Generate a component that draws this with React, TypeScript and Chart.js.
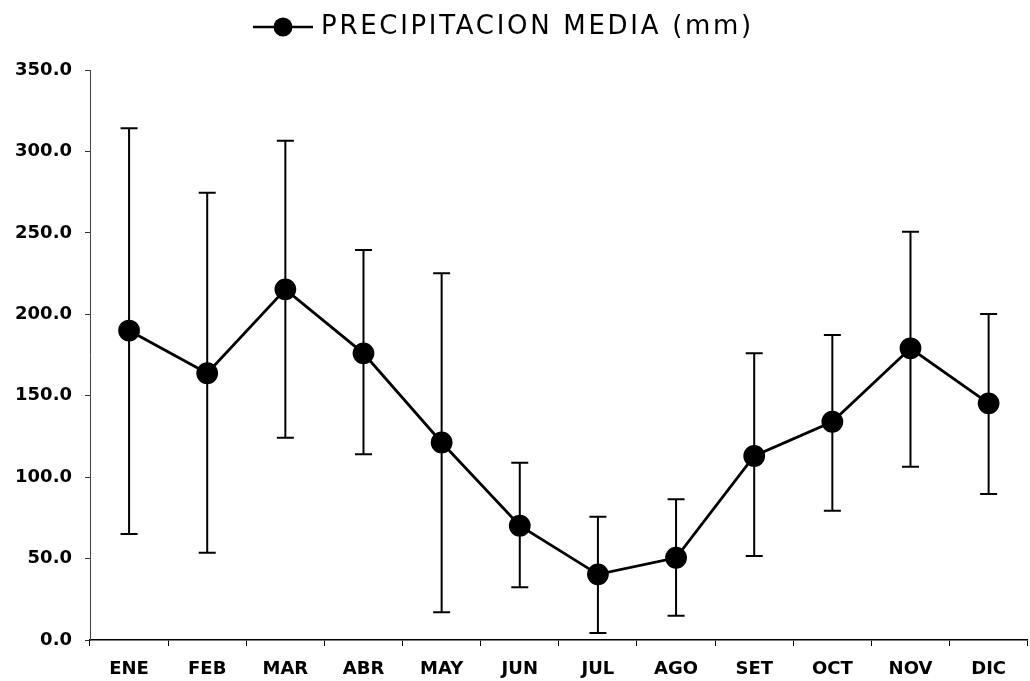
import React, { useEffect, useRef } from "react";
import { Chart, registerables } from "chart.js";

Chart.register(...registerables);

const months = ["ENE", "FEB", "MAR", "ABR", "MAY", "JUN", "JUL", "AGO", "SET", "OCT", "NOV", "DIC"];
const meanPrecip = [190.0, 163.8, 215.3, 176.0, 121.3, 70.2, 40.3, 50.5, 113.0, 134.0, 179.1, 145.3];
const upperPrecip = [314.2, 274.7, 306.6, 239.5, 225.2, 108.9, 75.7, 86.4, 176.0, 187.3, 250.7, 200.2];
const lowerPrecip = [65.1, 53.6, 124.2, 114.0, 17.0, 32.4, 4.3, 14.9, 51.6, 79.4, 106.4, 89.6];
const legendLabel = "PRECIPITACION MEDIA (mm)";
const yMin = 0;
const yMax = 350;
const yStep = 50;

const errorBarPlugin = {
  id: "errorBars",
  beforeDatasetsDraw(chart: any) {
    const { ctx, scales } = chart;
    const xs = scales.x;
    const ys = scales.y;
    ctx.save();
    ctx.strokeStyle = "#000";
    ctx.lineWidth = 2;
    const cap = 8.5;
    months.forEach((_, i) => {
      const x = xs.getPixelForValue(i);
      const yHi = ys.getPixelForValue(upperPrecip[i]);
      const yLo = ys.getPixelForValue(lowerPrecip[i]);
      ctx.beginPath();
      ctx.moveTo(x, yHi);
      ctx.lineTo(x, yLo);
      ctx.moveTo(x - cap, yHi);
      ctx.lineTo(x + cap, yHi);
      ctx.moveTo(x - cap, yLo);
      ctx.lineTo(x + cap, yLo);
      ctx.stroke();
    });
    ctx.restore();
  },
};

const legendPlugin = {
  id: "customLegend",
  afterDraw(chart: any) {
    const { ctx } = chart;
    const cy = 27;
    ctx.save();
    ctx.strokeStyle = "#000";
    ctx.lineWidth = 2.5;
    ctx.beginPath();
    ctx.moveTo(253, cy);
    ctx.lineTo(313, cy);
    ctx.stroke();
    ctx.fillStyle = "#000";
    ctx.beginPath();
    ctx.arc(283, cy, 9.5, 0, Math.PI * 2);
    ctx.fill();
    ctx.font = "26px 'DejaVu Sans'";
    (ctx as any).letterSpacing = "2.7px";
    ctx.textBaseline = "middle";
    ctx.textAlign = "left";
    ctx.fillText(legendLabel, 321, cy);
    ctx.restore();
  },
};

export default function App() {
  const ref = useRef<HTMLCanvasElement | null>(null);
  useEffect(() => {
    document.body.style.margin = "0";
    const canvas = ref.current!;
    const chart = new Chart(canvas, {
      type: "line",
      data: {
        labels: months,
        datasets: [
          {
            label: legendLabel,
            data: meanPrecip,
            borderColor: "#000",
            backgroundColor: "#000",
            borderWidth: 2.8,
            pointRadius: 9.5,
            pointBackgroundColor: "#000",
            pointBorderColor: "#000",
            tension: 0,
          },
        ],
      },
      options: {
        responsive: false,
        animation: false,
        layout: { padding: { top: 70, right: 3, left: 0, bottom: 0 } },
        plugins: {
          legend: { display: false },
          tooltip: { enabled: false },
        },
        scales: {
          x: {
            type: "category",
            offset: true,
            afterFit(scale: any) {
              scale.height = 41;
            },
            grid: {
              display: true,
              offset: true,
              drawOnChartArea: false,
              drawTicks: true,
              tickLength: 6,
              color: "#000",
              lineWidth: 1,
            },
            border: { display: true, color: "#000", width: 1.5 },
            ticks: {
              color: "#000",
              font: { family: "'DejaVu Sans'", size: 18, weight: "bold" },
              padding: 13,
              maxRotation: 0,
              autoSkip: false,
            },
          },
          y: {
            min: yMin,
            max: yMax,
            afterFit(scale: any) {
              scale.width = 90;
            },
            grid: {
              display: true,
              drawOnChartArea: false,
              drawTicks: true,
              tickLength: 5,
              color: "#333",
              lineWidth: 1,
            },
            border: { display: true, color: "#444", width: 1 },
            ticks: {
              stepSize: yStep,
              color: "#000",
              font: { family: "'DejaVu Sans'", size: 18, weight: "bold" },
              padding: 13,
              callback: (v: any) => Number(v).toFixed(1),
            },
          },
        },
      },
      plugins: [errorBarPlugin, legendPlugin],
    });
    return () => chart.destroy();
  }, []);

  return (
    <div
      style={{
        position: "fixed",
        left: 0,
        top: 0,
        width: 1030,
        height: 681,
        overflow: "hidden",
        background: "#fff",
      }}
    >
      <canvas ref={ref} width={1040} height={681} style={{ width: 1040, height: 681, display: "block" }} />
    </div>
  );
}
